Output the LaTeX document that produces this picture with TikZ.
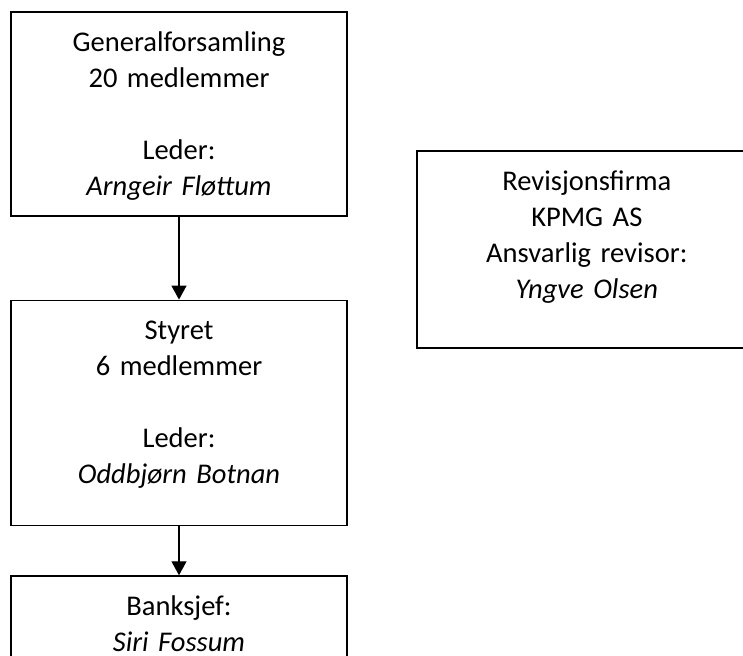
\documentclass[tikz,border=0pt]{standalone}
\usepackage{fontspec}
\setmainfont{Carlito}
\usetikzlibrary{positioning}
\usetikzlibrary{arrows.meta}
\tikzset{orgbox/.style={draw, line width=1.2pt, inner sep=0pt, text width=252pt, align=center, text height=29.5pt, font=\fontsize{21.4pt}{27pt}\selectfont}}
\tikzset{orgline/.style={line width=1pt, -{Triangle[width=11.25pt,length=10.5pt]}}}
\newcommand{\person}[1]{\textit{#1}}

\begin{document}
\begin{tikzpicture}[x=0.75pt,y=-0.75pt]
\useasboundingbox (0,0) rectangle (743,656);
\clip (0,0) rectangle (743,656);
\node [orgbox, text depth=123.5pt, anchor=north] (genf) at (179,11) {Generalforsamling\\20 medlemmer\\[27pt]Leder:\\\person{Arngeir Fløttum}};
\node [orgbox, text depth=139.3pt] (styret) [below=62.25pt of genf] {Styret\\6 medlemmer\\[27pt]Leder:\\\person{Oddbjørn Botnan}};
\node [orgbox, text depth=44pt] (banksjef) [below=36.75pt of styret] {Banksjef:\\\person{Siri Fossum}};
\node [orgbox, text width=255pt, text depth=118.3pt, anchor=north west] (revisor) at (416,150) {Revisjonsfirma\\KPMG AS\\Ansvarlig revisor:\\\person{Yngve Olsen}};
%Edge
\draw [orgline] (genf) -- (styret);
\draw [orgline] (styret) -- (banksjef);
\end{tikzpicture}
\end{document}
